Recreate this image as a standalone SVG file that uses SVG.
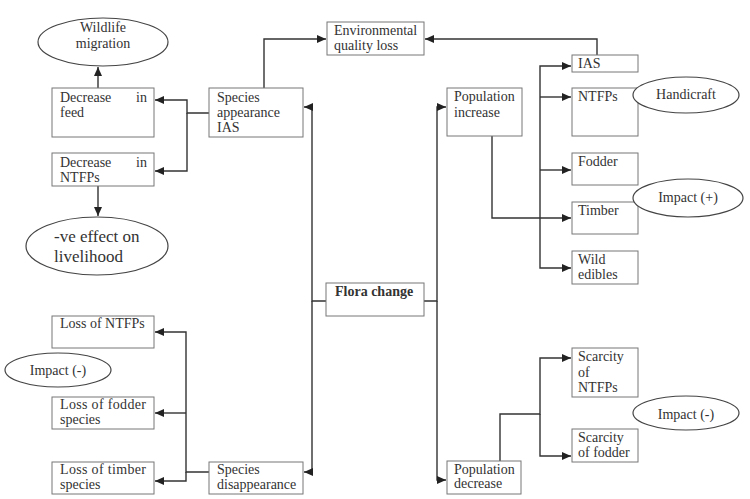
<svg xmlns="http://www.w3.org/2000/svg" width="750" height="499" viewBox="0 0 750 499">
<style>
.box{fill:#fff;stroke:#777;stroke-width:1}
.ell{fill:#fff;stroke:#444;stroke-width:1.2}
text{font-family:"Liberation Serif","Times New Roman",serif;font-size:14px;fill:#333}
.c{text-anchor:middle}
.e{text-anchor:end}
.b{font-weight:bold}
.big{font-size:17px}
.con path{fill:none;stroke:#333;stroke-width:1.4}
</style>
<defs>
<marker id="ah" markerUnits="userSpaceOnUse" markerWidth="10" markerHeight="10" refX="9" refY="4" orient="auto">
<path d="M0,0 L9,4 L0,8 Z" fill="#222"/>
</marker>
</defs>
<rect width="750" height="499" fill="#fff"/>

<g class="con">
<path d="M98,88 V67" marker-end="url(#ah)"/>
<path d="M98,186 V216" marker-end="url(#ah)"/>
<path d="M209,113 H187 V100 H155" marker-end="url(#ah)"/>
<path d="M187,113 V171 H155" marker-end="url(#ah)"/>
<path d="M264,88 V39 H326" marker-end="url(#ah)"/>
<path d="M597,55 V39 H425" marker-end="url(#ah)"/>
<path d="M326,301 H312 V107 H304" marker-end="url(#ah)"/>
<path d="M312,301 V472 H304" marker-end="url(#ah)"/>
<path d="M424,301 H437 V107 H446" marker-end="url(#ah)"/>
<path d="M437,301 V480 H446" marker-end="url(#ah)"/>
<path d="M492,136 V218 H571" marker-end="url(#ah)"/>
<path d="M540,218 V66 H571" marker-end="url(#ah)"/>
<path d="M540,97 H571" marker-end="url(#ah)"/>
<path d="M540,170 H571" marker-end="url(#ah)"/>
<path d="M540,218 V268 H571" marker-end="url(#ah)"/>
<path d="M500,461 V414 H540 V358 H571" marker-end="url(#ah)"/>
<path d="M540,414 V456 H571" marker-end="url(#ah)"/>
<path d="M209,472 H186 V332 H155" marker-end="url(#ah)"/>
<path d="M186,413 H155" marker-end="url(#ah)"/>
<path d="M186,472 V481 H155" marker-end="url(#ah)"/>
</g>

<g id="wildlife-migration">
<ellipse class="ell" cx="103" cy="42" rx="65" ry="24"/>
<text class="c" x="103" y="32">Wildlife</text>
<text class="c" x="103" y="48">migration</text>
</g>
<g id="decrease-feed">
<rect class="box" x="52" y="88" width="102" height="49"/>
<text x="60" y="102">Decrease</text><text class="e" x="147" y="102">in</text>
<text x="60" y="117">feed</text>
</g>
<g id="decrease-ntfps">
<rect class="box" x="52" y="153" width="102" height="33"/>
<text x="60" y="167">Decrease</text><text class="e" x="147" y="167">in</text>
<text x="60" y="182">NTFPs</text>
</g>
<g id="ve-effect">
<ellipse class="ell" cx="97" cy="246" rx="71" ry="29"/>
<text class="big" x="54" y="242">-ve effect on</text>
<text class="big" x="54" y="262">livelihood</text>
</g>
<g id="species-appearance">
<rect class="box" x="209" y="88" width="94" height="49"/>
<text x="217" y="102">Species</text>
<text x="217" y="117">appearance</text>
<text x="217" y="132">IAS</text>
</g>
<g id="env-quality-loss">
<rect class="box" x="327" y="22" width="97" height="33"/>
<text x="334" y="35">Environmental</text>
<text x="334" y="50">quality loss</text>
</g>
<g id="flora-change">
<rect class="box" x="326" y="283" width="98" height="33"/>
<text class="b" x="335" y="296">Flora change</text>
</g>
<g id="population-increase">
<rect class="box" x="447" y="88" width="75" height="48"/>
<text x="454" y="101">Population</text>
<text x="454" y="117">increase</text>
</g>
<g id="ias">
<rect class="box" x="572" y="55" width="66" height="17"/>
<text x="578" y="68">IAS</text>
</g>
<g id="ntfps">
<rect class="box" x="572" y="88" width="66" height="48"/>
<text x="578" y="101">NTFPs</text>
</g>
<g id="handicraft">
<ellipse class="ell" cx="686" cy="95" rx="53" ry="18"/>
<text class="c" x="686" y="99">Handicraft</text>
</g>
<g id="fodder">
<rect class="box" x="572" y="153" width="66" height="32"/>
<text x="578" y="166">Fodder</text>
</g>
<g id="timber">
<rect class="box" x="572" y="202" width="66" height="32"/>
<text x="578" y="215">Timber</text>
</g>
<g id="impact-plus">
<ellipse class="ell" cx="688" cy="198" rx="55" ry="19"/>
<text class="c" x="688" y="202">Impact (+)</text>
</g>
<g id="wild-edibles">
<rect class="box" x="572" y="251" width="66" height="33"/>
<text x="578" y="264">Wild</text>
<text x="578" y="279">edibles</text>
</g>
<g id="loss-ntfps">
<rect class="box" x="52" y="316" width="102" height="32"/>
<text x="60" y="328">Loss of NTFPs</text>
</g>
<g id="impact-minus-left">
<ellipse class="ell" cx="58" cy="370" rx="53" ry="17"/>
<text class="c" x="58" y="375">Impact (-)</text>
</g>
<g id="loss-fodder">
<rect class="box" x="52" y="397" width="102" height="32"/>
<text x="60" y="409" textLength="86" lengthAdjust="spacing">Loss of fodder</text>
<text x="60" y="424">species</text>
</g>
<g id="loss-timber">
<rect class="box" x="52" y="462" width="102" height="32"/>
<text x="60" y="474" textLength="86" lengthAdjust="spacing">Loss of timber</text>
<text x="60" y="489">species</text>
</g>
<g id="species-disappearance">
<rect class="box" x="209" y="462" width="94" height="32"/>
<text x="217" y="474">Species</text>
<text x="217" y="489">disappearance</text>
</g>
<g id="population-decrease">
<rect class="box" x="447" y="461" width="74" height="33"/>
<text x="454" y="474">Population</text>
<text x="454" y="488">decrease</text>
</g>
<g id="scarcity-ntfps">
<rect class="box" x="572" y="348" width="66" height="49"/>
<text x="578" y="361">Scarcity</text>
<text x="578" y="377">of</text>
<text x="578" y="392">NTFPs</text>
</g>
<g id="scarcity-fodder">
<rect class="box" x="572" y="429" width="66" height="33"/>
<text x="578" y="442">Scarcity</text>
<text x="578" y="457">of fodder</text>
</g>
<g id="impact-minus-right">
<ellipse class="ell" cx="686" cy="413" rx="53" ry="17"/>
<text class="c" x="686" y="419">Impact (-)</text>
</g>
</svg>
